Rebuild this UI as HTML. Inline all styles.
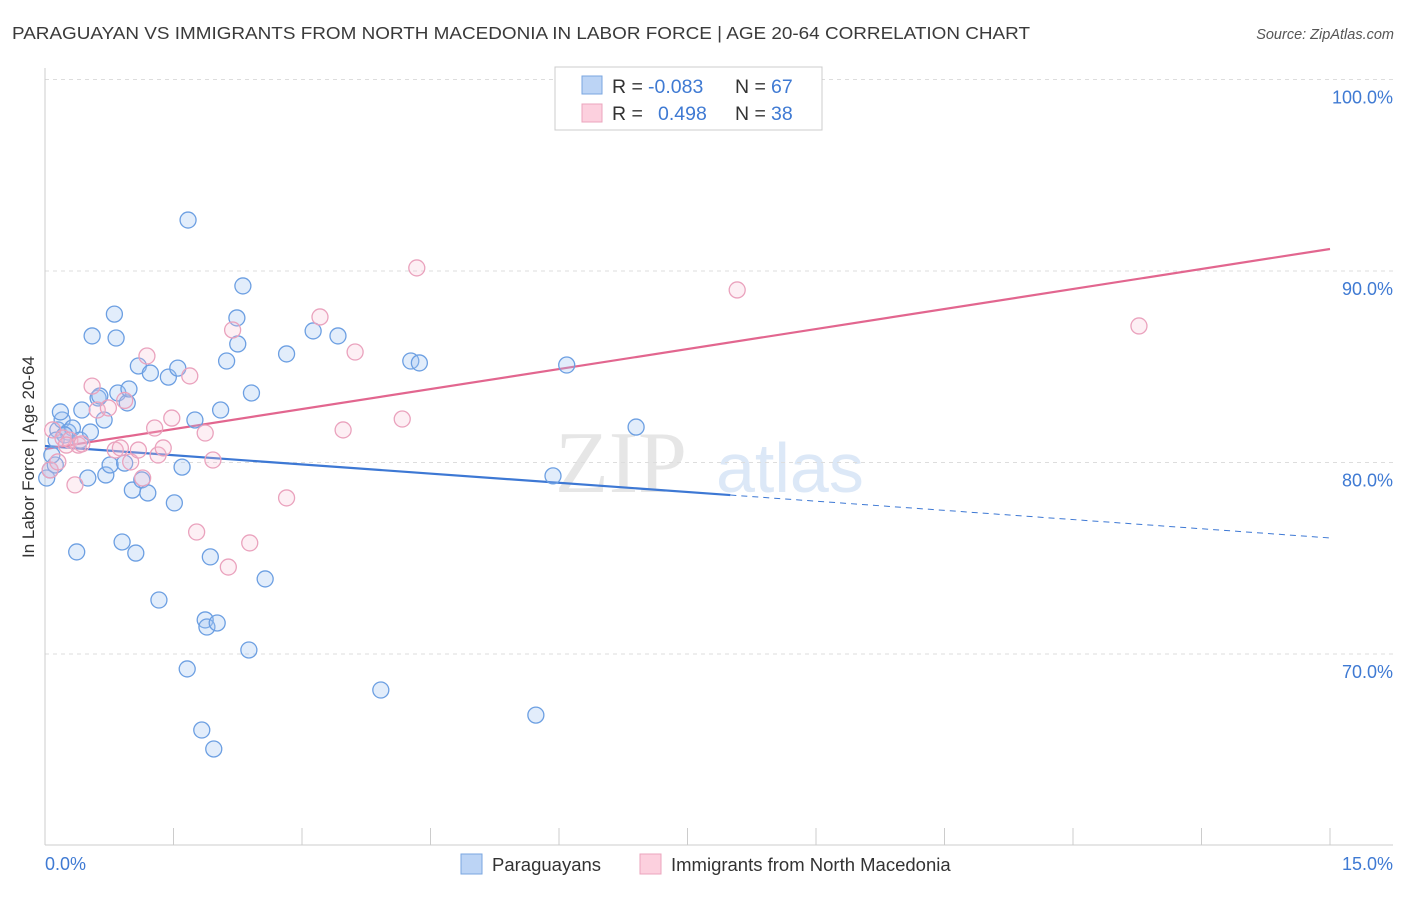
<!DOCTYPE html>
<html><head><meta charset="utf-8"><style>
body{margin:0;background:#fff;font-family:"Liberation Sans",sans-serif}
</style></head><body>
<svg id="chart" width="1406" height="892" xmlns="http://www.w3.org/2000/svg" font-family="Liberation Sans, sans-serif">
<text x="12" y="39" font-size="17.5" fill="#3a3a3a" textLength="1018" lengthAdjust="spacingAndGlyphs">PARAGUAYAN VS IMMIGRANTS FROM NORTH MACEDONIA IN LABOR FORCE | AGE 20-64 CORRELATION CHART</text>
<text x="1394" y="39" font-size="14.5" fill="#555" font-style="italic" text-anchor="end">Source: ZipAtlas.com</text>
<text x="555" y="492" font-size="88" fill="#e6e6e6" font-family="Liberation Serif, serif">ZIP</text>
<text x="716" y="492" font-size="70" fill="#dce8f7">atlas</text>
<g id="grid"></g><g id="axes"></g><g id="lines"></g><g id="pts"></g>
<text transform="translate(34,457) rotate(-90)" font-size="17" fill="#333" text-anchor="middle">In Labor Force | Age 20-64</text>
<g>
<rect x="555" y="67" width="267" height="63" fill="#fff" stroke="#ccc"/>
<rect x="582" y="76" width="20" height="18" fill="#bcd4f5" stroke="#7aa6e0"/>
<rect x="582" y="104" width="20" height="18" fill="#fcd0de" stroke="#eba5bd"/>
<text x="612" y="93" font-size="19.5" fill="#333">R =</text>
<text x="648" y="93" font-size="19.5" fill="#3f7ad3">-0.083</text>
<text x="735" y="93" font-size="19.5" fill="#333">N =</text>
<text x="771" y="93" font-size="19.5" fill="#3f7ad3">67</text>
<text x="612" y="120" font-size="19.5" fill="#333">R =</text>
<text x="658" y="120" font-size="19.5" fill="#3f7ad3">0.498</text>
<text x="735" y="120" font-size="19.5" fill="#333">N =</text>
<text x="771" y="120" font-size="19.5" fill="#3f7ad3">38</text>
</g>
<g>
<rect x="461" y="854" width="21" height="20" fill="#bcd4f5" stroke="#7aa6e0"/>
<text x="492" y="871" font-size="18.5" fill="#333">Paraguayans</text>
<rect x="640" y="854" width="21" height="20" fill="#fcd0de" stroke="#eba5bd"/>
<text x="671" y="871" font-size="18.5" fill="#333">Immigrants from North Macedonia</text>
</g>
</svg>
<script>
const yTicks=[100,90,80,70];
const yTickLabels=["100.0%","90.0%","80.0%","70.0%"];
const xTicks=[0,1.5,3,4.5,6,7.5,9,10.5,12,13.5,15];
const blueX=[0.02,0.06,0.12,0.08,0.15,0.20,0.18,0.27,0.32,0.41,0.43,0.50,0.53,0.55,0.62,0.64,0.69,0.71,0.76,0.81,0.83,0.85,0.90,0.93,0.96,0.98,1.02,1.06,1.09,1.13,1.20,1.23,1.33,1.44,1.51,1.55,1.60,1.66,1.67,1.75,1.83,1.87,1.89,1.93,1.97,2.01,2.05,2.12,2.24,2.25,2.31,2.38,2.41,2.57,2.82,3.13,3.42,3.92,4.27,4.37,5.73,5.93,6.09,6.90,0.37,0.23,0.13];
const blueY=[79.19,79.61,79.87,80.39,81.70,82.22,82.64,81.59,81.80,81.17,82.74,79.19,81.59,86.61,83.37,83.47,82.22,79.35,79.87,87.75,86.50,83.63,75.85,79.97,83.11,83.84,78.56,75.27,85.04,79.09,78.41,84.67,72.82,84.46,77.89,84.93,79.76,69.22,92.66,82.22,66.03,71.78,71.41,75.07,65.04,71.62,82.74,85.30,87.55,86.19,89.22,70.21,83.63,73.92,85.67,86.87,86.61,68.12,85.30,85.20,66.81,79.30,85.09,81.85,75.33,81.44,81.17];
const pinkX=[0.06,0.09,0.15,0.21,0.29,0.35,0.39,0.55,0.61,0.74,0.82,0.88,0.93,1.00,1.09,1.14,1.19,1.28,1.32,1.38,1.48,1.69,1.77,1.87,1.96,2.14,2.19,2.39,2.82,3.21,3.48,3.62,4.17,4.34,8.08,12.77,0.25,0.43];
const pinkY=[79.61,81.70,80.03,81.28,81.17,78.83,80.91,83.99,82.74,82.85,80.65,80.76,83.24,80.03,80.65,79.19,85.56,81.80,80.39,80.76,82.32,84.52,76.37,81.54,80.13,74.54,86.92,75.80,78.15,87.60,81.70,85.77,82.27,90.16,89.01,87.13,80.91,80.97];
const blueTrend=[80.86,76.06];
const pinkTrend=[80.7,91.15];
const blueSolidEnd=8.0;
const NS="http://www.w3.org/2000/svg";
const X=v=>45+v*(1285/15);
const Y=v=>79.5+(100-v)*19.15;
function mk(p,t,a){const e=document.createElementNS(NS,t);for(const k in a)e.setAttribute(k,a[k]);document.getElementById(p).appendChild(e);return e;}
yTicks.forEach((t,i)=>{
 const g=mk('grid','line',{x1:45,x2:1393,y1:Y(t),y2:Y(t),stroke:'#ddd','stroke-dasharray':'4,4'});
 
 
 const l=mk('grid','text',{x:1393,y:Y(t)+24,'font-size':18,fill:'#3f7ad3','text-anchor':'end'});
 l.textContent=yTickLabels[i];
 
 
});
mk('axes','line',{x1:45,x2:45,y1:68,y2:845,stroke:'#ccc'});
mk('axes','line',{x1:45,x2:1393,y1:845,y2:845,stroke:'#ccc'});
xTicks.forEach(t=>{const e=mk('axes','line',{x1:X(t),x2:X(t),y1:828,y2:845,stroke:'#ccc'});
 
 });
const xl0=mk('axes','text',{x:45,y:870,'font-size':18,fill:'#3f7ad3'});xl0.textContent="0.0%";


const xl1=mk('axes','text',{x:1393,y:870,'font-size':18,fill:'#3f7ad3','text-anchor':'end'});xl1.textContent="15.0%";


function pts(xs,ys,stroke,fill,name){xs.forEach((x,i)=>{const c=mk('pts','circle',{cx:X(x),cy:Y(ys[i]),r:8,fill:fill,stroke:stroke,'stroke-width':1.3});
 
 });}
pts(blueX,blueY,'#6c9fe2','rgba(160,196,242,0.3)','paraguayan-point');
pts(pinkX,pinkY,'#eaa2bd','rgba(247,192,212,0.25)','macedonia-point');
const bx=blueSolidEnd,by=blueTrend[0]+(blueTrend[1]-blueTrend[0])*bx/15;
const b1=mk('lines','line',{x1:X(0),y1:Y(blueTrend[0]),x2:X(bx),y2:Y(by),stroke:'#3d78d4','stroke-width':2.2});


const b2=mk('lines','line',{x1:X(bx),y1:Y(by),x2:X(15),y2:Y(blueTrend[1]),stroke:'#3d78d4','stroke-width':1,'stroke-dasharray':'6,5'});


const p1=mk('lines','line',{x1:X(0),y1:Y(pinkTrend[0]),x2:X(15),y2:Y(pinkTrend[1]),stroke:'#e2668f','stroke-width':2.2});


</script>
</body></html>
